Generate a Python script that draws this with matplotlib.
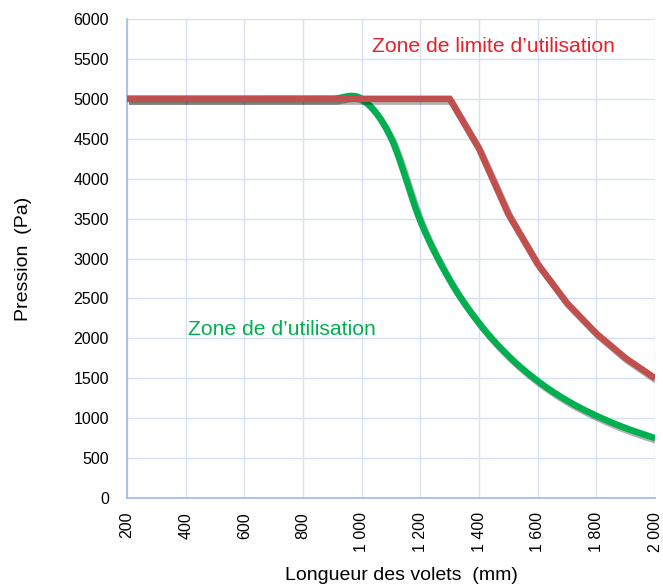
import numpy as np
import matplotlib
matplotlib.use("Agg")
import matplotlib.pyplot as plt
import matplotlib.patheffects as pe

# ── data ─────────────────────────────────────────────────────────────────────
longueur = [200, 300, 400, 500, 600, 700, 800, 900, 1000, 1100, 1200, 1300,
            1400, 1500, 1600, 1700, 1800, 1900, 2000]
p_utilisation = [5000, 5000, 5000, 5000, 5000, 5000, 5000, 5000, 5000, 4510,
                 3470, 2730, 2190, 1780, 1465, 1220, 1030, 875, 750]
p_limite = [5000, 5000, 5000, 5000, 5000, 5000, 5000, 5000, 5000, 5000,
            5000, 5000, 4375, 3555, 2930, 2440, 2060, 1750, 1500]

x_ticks = [200, 400, 600, 800, 1000, 1200, 1400, 1600, 1800, 2000]
x_ticklabels = ["200", "400", "600", "800", "1 000", "1 200", "1 400",
                "1 600", "1 800", "2 000"]
y_ticks = list(range(0, 6001, 500))

# ── colours ──────────────────────────────────────────────────────────────────
C_GREEN = "#00B050"
C_RED_LINE = "#C0504D"
C_RED_TEXT = "#E8202A"
C_GRID = "#D6E2F3"
C_SPINE = "#9DBCE4"

FONT = ["Liberation Sans", "DejaVu Sans"]


def smooth(xs, ys, n=30):
    """Excel-like smoothed line: cubic Bezier with Catmull-Rom control points."""
    xs = np.asarray(xs, float)
    ys = np.asarray(ys, float)
    pts = np.column_stack([xs, ys])
    out = []
    t = np.linspace(0, 1, n)[:, None]
    for i in range(len(pts) - 1):
        p0 = pts[i]
        p3 = pts[i + 1]
        pm = pts[i - 1] if i > 0 else pts[i]
        pn = pts[i + 2] if i + 2 < len(pts) else pts[i + 1]
        c1 = p0 + (p3 - pm) / 6
        c2 = p3 - (pn - p0) / 6
        seg = ((1 - t) ** 3 * p0 + 3 * (1 - t) ** 2 * t * c1
               + 3 * (1 - t) * t ** 2 * c2 + t ** 3 * p3)
        out.append(seg if i == 0 else seg[1:])
    out = np.vstack(out)
    return out[:, 0], out[:, 1]


fig = plt.figure(figsize=(6.63, 5.85), dpi=100)
ax = fig.add_axes([0.1916, 0.1487, 0.7964, 0.8188])

shadow = [pe.SimpleLineShadow(offset=(1.5, -2), shadow_color="black", alpha=0.3),
          pe.Normal()]

gx, gy = smooth(longueur, p_utilisation)
ax.plot(gx, gy, color=C_GREEN, lw=4.7, solid_capstyle="butt", zorder=3,
        path_effects=shadow)
ax.plot(longueur, p_limite, color=C_RED_LINE, lw=4.7, solid_capstyle="butt",
        solid_joinstyle="miter", zorder=4, path_effects=shadow)

ax.set_xlim(200, 2000)
ax.set_ylim(0, 6000)
ax.set_xticks(x_ticks)
ax.set_xticklabels(x_ticklabels, rotation=90, fontsize=11.5, family=FONT)
ax.set_yticks(y_ticks)
ax.set_yticklabels([str(v) for v in y_ticks], fontsize=11.5, family=FONT)
ax.tick_params(axis="y", length=0, pad=13)
ax.tick_params(axis="x", length=0, pad=10)

ax.grid(True, color=C_GRID, lw=1.0)
ax.set_axisbelow(True)
for side in ("top", "right"):
    ax.spines[side].set_visible(False)
for side in ("left", "bottom"):
    ax.spines[side].set_color(C_SPINE)
    ax.spines[side].set_linewidth(1.2)

ax.set_xlabel("Longueur des volets  (mm)", fontsize=14, family=FONT)
ax.xaxis.set_label_coords(0.52, -0.145)
ax.set_ylabel("Pression  (Pa)", fontsize=14, family=FONT, labelpad=30)

ax.text(0.464, 0.942, "Zone de limite d’utilisation", transform=ax.transAxes,
        color=C_RED_TEXT, fontsize=15.2, family=FONT, va="center", ha="left")
ax.text(0.116, 0.352, "Zone de d’utilisation", transform=ax.transAxes,
        color=C_GREEN, fontsize=15.2, family=FONT, va="center", ha="left")

fig.savefig("out.png", dpi=100)
